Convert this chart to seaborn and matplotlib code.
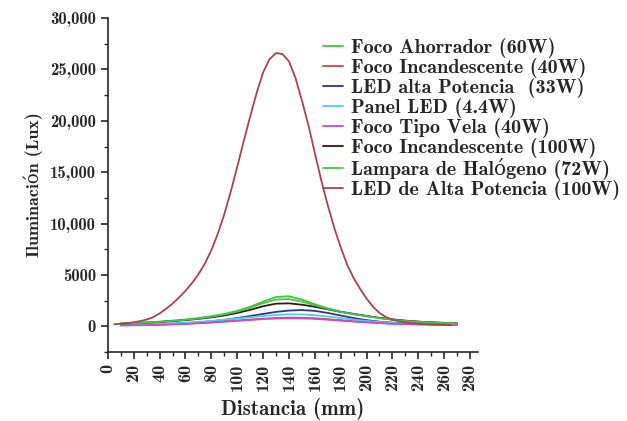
import numpy as np
import pandas as pd
import matplotlib
matplotlib.use("Agg")
import matplotlib.pyplot as plt
import seaborn as sns
from matplotlib.ticker import MultipleLocator

# distances (mm)
dist = [10, 20, 30, 40, 50, 60, 70, 80, 90, 100, 110, 120, 130, 140,
        150, 160, 170, 180, 190, 200, 210, 220, 230, 240, 250, 260, 270]
dist_led100 = [5, 10, 15, 20, 25, 30, 35, 40, 45, 50, 55, 60, 65, 70, 75, 80, 85, 90,
               95, 100, 105, 110, 115, 120, 125, 130, 135, 140, 145, 150, 155, 160,
               165, 170, 175, 180, 185, 190, 195, 200, 205, 210, 215, 220, 225, 230,
               235, 240, 245, 250, 255, 260, 265]

# illuminance (lux)
ahorrador_60 = [280, 320, 380, 450, 550, 660, 800, 980, 1200, 1500, 1900, 2400, 2850, 2920,
                2600, 2150, 1750, 1420, 1200, 1000, 800, 650, 530, 450, 380, 330, 300]
incand_40 = [110, 120, 140, 170, 210, 260, 320, 390, 470, 560, 650, 740, 800, 840,
             830, 780, 690, 590, 490, 400, 320, 260, 220, 190, 170, 150, 140]
led_33 = [100, 120, 150, 190, 240, 300, 380, 480, 620, 800, 1000, 1200, 1400, 1530,
          1580, 1500, 1300, 1050, 800, 600, 450, 350, 280, 230, 190, 170, 150]
panel_led = [150, 170, 200, 240, 290, 350, 430, 520, 630, 760, 880, 1000, 1100, 1160,
             1150, 1080, 950, 800, 650, 520, 420, 340, 280, 240, 210, 190, 180]
vela_40 = [80, 90, 110, 140, 180, 230, 290, 360, 440, 530, 620, 700, 760, 780,
           770, 720, 640, 550, 460, 380, 310, 250, 210, 180, 160, 140, 130]
incand_100 = [250, 300, 350, 420, 500, 600, 720, 870, 1050, 1300, 1600, 1950, 2200, 2230,
              2100, 1900, 1650, 1400, 1200, 1000, 820, 670, 550, 450, 380, 330, 300]
halogeno_72 = [260, 300, 360, 430, 520, 630, 760, 930, 1150, 1430, 1800, 2250, 2600, 2650,
               2400, 2050, 1700, 1400, 1180, 980, 790, 640, 520, 440, 370, 320, 290]
led_100 = [200, 250, 310, 390, 500, 650, 880, 1250, 1700, 2200, 2800, 3450, 4200, 5050,
           6100, 7400, 9000, 10900, 13100, 15500, 18000, 20400, 22700, 24700, 26000, 26600,
           26500, 25800, 24200, 22000, 19600, 16900, 14200, 11800, 9600, 7700, 6000, 4700,
           3650, 2700, 1900, 1300, 900, 640, 480, 370, 300, 250, 210, 180, 160, 140, 120]

labels = ["Foco Ahorrador (60W)", "Foco Incandescente (40W)", "LED alta Potencia  (33W)",
          "Panel LED (4.4W)", "Foco Tipo Vela (40W)", "Foco Incandescente (100W)",
          "Lampara de Halógeno (72W)", "LED de Alta Potencia (100W)"]
colors = ["#3cc83c", "#d24646", "#32328c", "#46d2e6", "#d246d2", "#3c1414", "#46c846", "#a8444e"]

yticks = [0, 5000, 10000, 15000, 20000, 25000, 30000]
ytick_labels = ["0", "5000", "10,000", "15,000", "20,000", "25,000", "30,000"]
xticks = list(range(0, 281, 20))

series = [ahorrador_60, incand_40, led_33, panel_led, vela_40, incand_100, halogeno_72, led_100]
frames = []
for lab, vals in zip(labels, series):
    xs = dist_led100 if lab.startswith("LED de Alta") else dist
    frames.append(pd.DataFrame({"Distancia": xs, "Lux": vals, "Serie": lab}))
df = pd.concat(frames, ignore_index=True)

sns.set_style("ticks")
plt.rcParams["font.family"] = ["cmb10", "DejaVu Serif"]
plt.rcParams["axes.unicode_minus"] = False

fig = plt.figure(figsize=(6.27, 4.21), dpi=100)
ax = fig.add_axes([0.172, 0.164, 0.59, 0.793])
sns.lineplot(data=df, x="Distancia", y="Lux", hue="Serie", hue_order=labels,
             palette=dict(zip(labels, colors)), linewidth=1.3, ax=ax)

ax.set_xlim(0, 286)
ax.set_ylim(-2500, 30000)
ax.set_xticks(xticks)
ax.set_xticklabels([str(v) for v in xticks], rotation=90, fontsize=13)
ax.set_yticks(yticks)
ax.set_yticklabels(ytick_labels, fontsize=12)
ax.xaxis.set_minor_locator(MultipleLocator(10))
ax.yaxis.set_minor_locator(MultipleLocator(2500))
ax.tick_params(which="major", direction="out", length=5, width=1.2)
ax.tick_params(which="minor", direction="out", length=3, width=1.0)
ax.set_xlabel("Distancia (mm)", fontsize=15, labelpad=5)
ax.set_ylabel("Iluminación (Lux)", fontsize=13, labelpad=5)
sns.despine(ax=ax)
for s in ["left", "bottom"]:
    ax.spines[s].set_linewidth(1.2)

ax.legend(loc="upper left", bbox_to_anchor=(0.56, 0.965), frameon=False, fontsize=14.5,
          handlelength=1.0, handletextpad=0.4, labelspacing=0.0, borderaxespad=0)

plt.savefig("out.png", dpi=100)
